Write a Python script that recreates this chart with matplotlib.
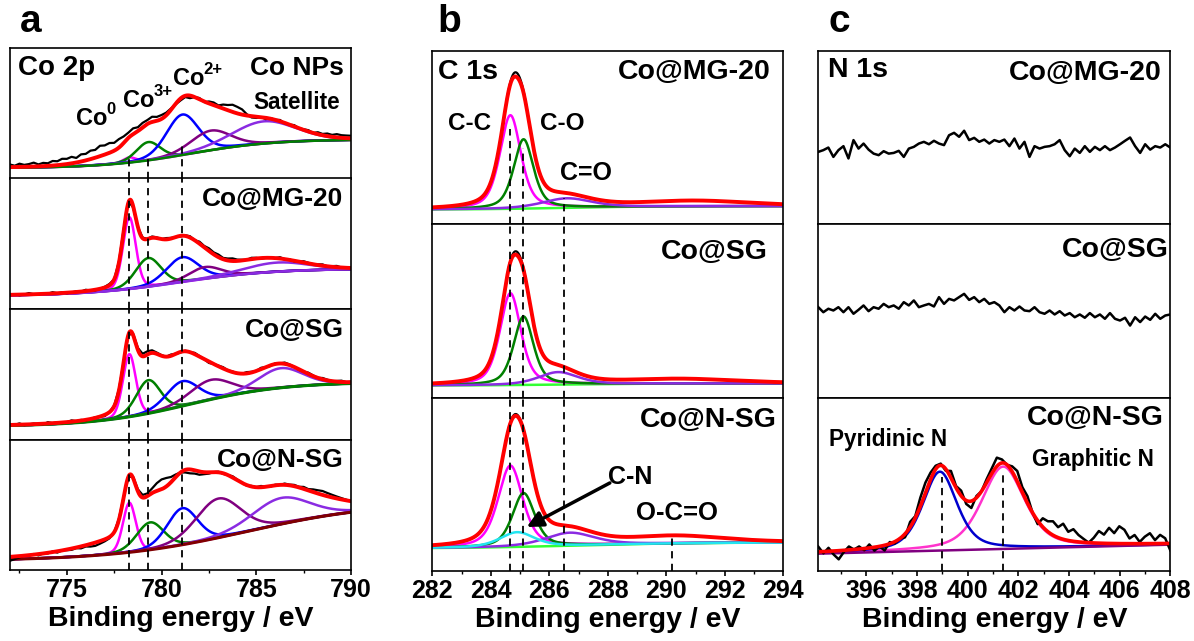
import numpy as np
import matplotlib.pyplot as plt
from matplotlib.ticker import MultipleLocator

plt.rcParams['font.family'] = ['Liberation Sans', 'DejaVu Sans']
plt.rcParams['font.weight'] = 'bold'

# ---------------- a: Co 2p ----------------
co_samples = ['Co NPs', 'Co@MG-20', 'Co@SG', 'Co@N-SG']
co_lines = [778.3, 779.3, 781.1]            # Co0, Co3+, Co2+
co_line_start = [0.15, 0.15, 0.27]          # dashes start here in the top frame
co_states = ['0', '3+', '2+']
# background: low level, rise, step centre, step width
co_bg = [[0.08, 0.22, 781.5, 2.2],
         [0.10, 0.21, 781.0, 2.5],
         [0.10, 0.34, 781.5, 2.5],
         [0.07, 0.45, 784.5, 3.5]]
# components: Co0, Co3+, Co2+, satellite 1, satellite 2
co_centre = [[778.3, 779.3, 781.1, 782.6, 785.4],
             [778.3, 779.3, 781.1, 782.3, 786.1],
             [778.3, 779.3, 781.1, 782.6, 786.3],
             [778.3, 779.4, 781.1, 783.0, 786.3]]
co_height = [[0.04, 0.14, 0.31, 0.15, 0.17],
             [0.55, 0.22, 0.19, 0.09, 0.07],
             [0.48, 0.255, 0.19, 0.15, 0.15],
             [0.38, 0.21, 0.28, 0.30, 0.20]]
co_width = [[0.8, 1.5, 2.0, 2.5, 4.0],
            [0.8, 1.6, 2.0, 2.0, 4.0],
            [0.8, 1.5, 2.0, 2.6, 2.8],
            [0.8, 1.7, 1.9, 2.8, 3.6]]
# unresolved parts of the envelope (centre, height, fwhm)
co_extra = [[(778.5, 0.10, 4.0), (783.0, 0.08, 3.0)],
            [(780.3, 0.13, 3.2), (784.5, 0.05, 3.5)],
            [(780.1, 0.17, 3.4), (784.0, 0.05, 5.0)],
            [(781.0, 0.17, 9.0), (789.0, 0.06, 4.0)]]
# measured minus envelope, 772-790 eV
co_resid = [
    [.02, .01, .025, .015, .02, .03, .015, .025, .02, .035, .03, .045, .04, .05, .035, .055,
     .05, .065, .06, .08, .07, .075, .06, .065, .05, .04, .045, .03, .035, .03, .04, .03,
     .03, .02, .01, -.005, -.015, -.01, -.02, .0, .01, -.005, .015, .02, .01, .03, .04, .055,
     .05, .04, .01, -.01, -.01, .0, -.01, .005, .0, .01, -.005, .0, .01, .0, .005, .01,
     .0, .015, .01, .02, .015, .025, .02, .02, .02],
    [0, .005, -.005, .0, .01, .0, -.005, .005, .0, .01, .0, .005, -.005, .0, .005, .0,
     .01, .0, -.005, .0, .005, .01, .0, .01, .015, .01, -.01, .0, .005, .0, .01, .005,
     .0, .01, .005, .0, -.005, .005, .01, .0, .015, .01, .02, .015, .02, .01, .015, .02,
     .01, .005, .0, .01, .005, -.005, .0, .005, .0, .01, .0, .005, -.005, .0, .01, .005,
     .0, .005, .01, .0, .005, .01, .0, .005, .0],
    [.005, .0, .01, -.005, .0, .005, .0, -.005, .01, .0, .005, -.005, .0, .01, .0, .005,
     -.005, .0, .005, .0, -.01, .0, .005, .01, .0, .0, .01, .015, .02, .025, .02, .01,
     .005, .0, .01, .0, -.005, .005, .0, .01, .005, .0, -.01, .0, .005, .01, .0, .005,
     -.005, .0, .01, .005, .0, .01, .0, -.005, .005, .0, .01, .005, .0, -.005, .0, .01,
     .005, .0, .01, .005, .0, .005, .01, .0, .005],
    [-.03, -.02, -.01, .0, -.005, .005, -.01, .0, -.005, .005, -.01, .0, -.005, -.01, -.005, -.015,
     -.01, -.02, -.025, -.02, -.015, -.01, .0, .01, .005, .0, .01, .015, .02, .02, .035, .06,
     .075, .065, .04, .02, .0, -.02, -.03, -.025, -.025, -.015, -.01, .0, .005, -.005, .0, .01,
     .005, .0, -.005, .005, .0, .01, .0, -.005, .005, .0, .01, .005, .01, .005, .015, .01,
     .02, .025, .03, .025, .02, .015, .01, .005, .0]]

# ---------------- b: C 1s ----------------
c_samples = ['Co@MG-20', 'Co@SG', 'Co@N-SG']
c_lines = [284.65, 285.1, 286.5]
c_line_start = [0.55, 0.44, 0.15]
c_ocO = 290.2
c_bg = [[0.085, 0.02, 286.5, 1.5],
        [0.07, 0.012, 286.5, 1.5],
        [0.13, 0.035, 287.0, 2.0]]
# components: C-C, C-O, C=O, C-N
c_centre = [[284.67, 285.12, 286.6],
            [284.67, 285.12, 286.3],
            [284.67, 285.12, 286.7, 284.9]]
c_height = [[0.54, 0.40, 0.055],
            [0.53, 0.395, 0.072],
            [0.47, 0.31, 0.075, 0.085]]
c_width = [[0.85, 0.8, 2.0],
           [0.85, 0.8, 1.6],
           [1.0, 0.9, 2.0, 1.4]]
c_extra = [[(291.0, 0.03, 4.5)], [(290.5, 0.025, 4.5)], [(290.3, 0.04, 4.0)]]
c_black_top = [(284.88, 0.025, 0.4), (284.9, 0.02, 0.4), (284.85, 0.01, 0.4)]

# ---------------- c: N 1s ----------------
n_samples = ['Co@MG-20', 'Co@SG', 'Co@N-SG']
n_mg = [.418, .428, .443, .389, .428, .451, .380, .486, .437, .466, .431, .408, .399, .422, .408, .412,
        .424, .389, .437, .447, .466, .476, .462, .482, .466, .457, .514, .528, .505, .540, .486, .499,
        .476, .489, .466, .486, .476, .489, .451, .495, .437, .476, .389, .451, .437, .447, .451, .462,
        .486, .428, .393, .437, .412, .451, .418, .447, .428, .451, .428, .443, .462, .482, .501, .451,
        .412, .462, .431, .451, .443, .462, .443]
n_sg = [.522, .493, .513, .503, .522, .493, .522, .484, .507, .532, .499, .522, .513, .541, .522, .532,
        .513, .551, .532, .561, .522, .532, .541, .526, .580, .541, .570, .561, .580, .599, .564, .580,
        .551, .570, .541, .551, .532, .493, .522, .503, .526, .503, .499, .522, .493, .484, .503, .480,
        .499, .474, .488, .464, .480, .461, .488, .464, .480, .455, .488, .455, .445, .461, .416, .464,
        .436, .468, .449, .484, .455, .474, .480]
n_bg = [0.10, 0.152]
n_centre = [398.9, 401.4]                  # pyridinic N, graphitic N
n_height = [0.455, 0.475]
n_width = [1.6, 2.0]
n_lines = [399.0, 401.4]
n_line_top = [0.54, 0.56]
n_resid = [.03, -.01, .02, -.02, -.05, -.01, .02, .0, .015, -.01, .02, -.02, .0, -.03, .01, -.01,
           .0, -.02, .03, .01, .05, .06, .04, .02, .01, -.01, .04, .01, .03, -.02, -.04, .01,
           .0, .02, .03, .05, .02, .0, .03, .06, .03, .04, .0, -.02, .05, .06, .08, .06,
           .09, .05, .07, .04, .02, .0, .03, .07, .05, .09, .06, .1, .08, .03, .05, .01,
           .04, .06, .02, .05, .03, -.04]


def pv(x, c, h, w, eta=0.3):
    d = (x - c) / w
    return h * (eta / (1 + 4 * d ** 2) + (1 - eta) * np.exp(-4 * np.log(2) * d ** 2))


def step_bg(x, lo, rise, xc, ws):
    return lo + rise / (1 + np.exp(-(x - xc) / ws))


def envelope(x, bgp, cs, hs, ws, extra, eta):
    y = step_bg(x, *bgp)
    for c, h, w in zip(cs, hs, ws):
        y = y + pv(x, c, h, w, eta)
    for c, h, w in extra:
        y = y + pv(x, c, h, w, eta)
    return y


fig = plt.figure(figsize=(11.94, 6.41), dpi=100)
W, H = 1194, 641


def column(left, width, top, bottom, n):
    h = (bottom - top) / n
    axs = []
    for i in range(n):
        ax = fig.add_axes([left / W, 1 - (top + (i + 1) * h) / H, width / W, h / H])
        ax.set_ylim(0, 1)
        ax.set_yticks([])
        for s in ax.spines.values():
            s.set_linewidth(1.2)
        if i < n - 1:
            ax.tick_params(bottom=False, labelbottom=False)
        axs.append(ax)
    return axs


def bottom_axis(ax, major, minor):
    ax.xaxis.set_major_locator(MultipleLocator(major))
    ax.xaxis.set_minor_locator(MultipleLocator(minor))
    ax.tick_params(axis='x', which='major', direction='out', length=3.5, width=1.2, labelsize=18, pad=2)
    ax.tick_params(axis='x', which='minor', direction='out', length=2.5, width=1.0)
    ax.xaxis.set_major_formatter(plt.FuncFormatter(lambda v, p: '%d' % round(v)))
    ax.set_xlabel('Binding energy / eV', fontsize=20.5, fontweight='bold', labelpad=3)


dash = (0, (4, 3))
comp_lw = 1.8

# ---- a ----
axa = column(10, 341, 48, 570, 4)
xa = np.linspace(772, 790, 721)
co_colors = ['#FF00FF', '#008000', '#0000FF', '#800080', '#8A2BE2']
co_bg_colors = ['#008000', '#8A2BE2', '#008000', '#800000']
for i, ax in enumerate(axa):
    ax.set_xlim(772, 790)
    bg = step_bg(xa, *co_bg[i])
    for c, h, w, col in zip(co_centre[i], co_height[i], co_width[i], co_colors):
        ax.plot(xa, bg + pv(xa, c, h, w, 0.2), color=col, lw=comp_lw)
    ax.plot(xa, bg, color=co_bg_colors[i], lw=2.2 if i in (2, 3) else comp_lw)
    xr = np.linspace(772, 790, len(co_resid[i]))
    env_r = envelope(xr, co_bg[i], co_centre[i], co_height[i], co_width[i], co_extra[i], 0.2)
    ax.plot(xr, env_r + np.array(co_resid[i]), color='k', lw=1.6)
    env = envelope(xa, co_bg[i], co_centre[i], co_height[i], co_width[i], co_extra[i], 0.2)
    ax.plot(xa, env, color='#FF0000', lw=2.8)
    for x0, s in zip(co_lines, co_line_start):
        ax.axvline(x0, ymin=0, ymax=s if i == 0 else 1, color='k', lw=1.3, ls=dash)
    ax.text(789.6, 0.84 if i else 0.847, co_samples[i], ha='right', va='center', fontsize=19)
axa[0].text(772.42, 0.847, 'Co 2p', ha='left', va='center', fontsize=20)
axa[0].text(789.43, 0.586, 'Satellite', ha='right', va='center', fontsize=16.3)
# Co0, Co3+, Co2+ labels with superscripts
for xl, yl, st in zip([775.5, 777.95, 780.6], [0.46, 0.60, 0.766], co_states):
    t = axa[0].text(xl, yl, 'Co', ha='left', va='center', fontsize=17)
    axa[0].annotate(st, xy=(0.97, 0.55), xycoords=t, ha='left', va='bottom', fontsize=12)
bottom_axis(axa[-1], 5, 2.5)

# ---- b ----
axb = column(432.3, 351, 51, 571, 3)
xb = np.linspace(282, 294, 1201)
c_colors = ['#FF00FF', '#008000', '#8A2BE2', '#22E5F0']
for i, ax in enumerate(axb):
    ax.set_xlim(282, 294)
    bg = step_bg(xb, *c_bg[i])
    ax.plot(xb, bg, color='#33FF33', lw=comp_lw)
    for c, h, w, col in zip(c_centre[i], c_height[i], c_width[i], c_colors):
        ax.plot(xb, bg + pv(xb, c, h, w, 0.5), color=col, lw=comp_lw)
    env = envelope(xb, c_bg[i], c_centre[i], c_height[i], c_width[i], c_extra[i], 0.5)
    ax.plot(xb, env + pv(xb, *c_black_top[i], 0.0), color='k', lw=1.6)
    ax.plot(xb, env, color='#FF0000', lw=2.8)
    for x0, s in zip(c_lines, c_line_start):
        ax.axvline(x0, ymin=0, ymax=s if i == 0 else 1, color='k', lw=1.3, ls=dash)
axb[2].axvline(c_ocO, ymin=0, ymax=0.207, color='k', lw=1.3, ls=dash)
axb[0].text(282.2, 0.879, 'C 1s', ha='left', va='center', fontsize=20.5)
axb[0].text(293.55, 0.879, c_samples[0], ha='right', va='center', fontsize=20.5)
axb[1].text(293.48, 0.84, c_samples[1], ha='right', va='center', fontsize=20.5)
axb[2].text(293.78, 0.871, c_samples[2], ha='right', va='center', fontsize=20.5)
axb[0].text(283.29, 0.584, 'C-C', ha='center', va='center', fontsize=17.5)
axb[0].text(286.43, 0.584, 'C-O', ha='center', va='center', fontsize=17.5)
axb[0].text(287.25, 0.296, 'C=O', ha='center', va='center', fontsize=18)
axb[2].text(288.76, 0.542, 'C-N', ha='center', va='center', fontsize=18)
axb[2].text(290.37, 0.335, 'O-C=O', ha='center', va='center', fontsize=18.5)
axb[2].annotate('', xy=(285.23, 0.254), xytext=(288.07, 0.508),
                arrowprops=dict(arrowstyle='-|>', color='k', lw=2.5, mutation_scale=24,
                                shrinkA=0, shrinkB=0))
bottom_axis(axb[-1], 2, 1)

# ---- c ----
axc = column(818.3, 352, 51, 571, 3)
for ax in axc:
    ax.set_xlim(394.1, 408)
xn = np.linspace(394.1, 408, len(n_mg))
axc[0].plot(xn, n_mg, color='k', lw=1.8)
xn = np.linspace(394.1, 408, len(n_sg))
axc[1].plot(xn, n_sg, color='k', lw=1.8)
xc = np.linspace(394.1, 408, 700)
bgc = np.linspace(n_bg[0], n_bg[1], len(xc))
axc[2].plot(xc, bgc + pv(xc, n_centre[1], n_height[1], n_width[1], 0.5), color='#FF33CC', lw=comp_lw)
axc[2].plot(xc, bgc + pv(xc, n_centre[0], n_height[0], n_width[0], 0.5), color='#0000CD', lw=comp_lw)
axc[2].plot(xc, bgc, color='#800080', lw=comp_lw)
xr = np.linspace(394.1, 408, len(n_resid))
env_r = np.linspace(n_bg[0], n_bg[1], len(xr))
for c, h, w in zip(n_centre, n_height, n_width):
    env_r = env_r + pv(xr, c, h, w, 0.5)
axc[2].plot(xr, env_r + np.array(n_resid), color='k', lw=1.8)
env = bgc.copy()
for c, h, w in zip(n_centre, n_height, n_width):
    env = env + pv(xc, c, h, w, 0.5)
axc[2].plot(xc, env, color='#FF0000', lw=2.6)
for x0, t in zip(n_lines, n_line_top):
    axc[2].axvline(x0, ymin=0, ymax=t, color='k', lw=1.3, ls=dash)
axc[0].text(394.47, 0.89, 'N 1s', ha='left', va='center', fontsize=20.5)
axc[0].text(407.64, 0.872, n_samples[0], ha='right', va='center', fontsize=20.5)
axc[1].text(407.92, 0.852, n_samples[1], ha='right', va='center', fontsize=20.5)
axc[2].text(407.76, 0.883, n_samples[2], ha='right', va='center', fontsize=20.5)
axc[2].text(396.84, 0.756, 'Pyridinic N', ha='center', va='center', fontsize=16.3)
axc[2].text(404.94, 0.646, 'Graphitic N', ha='center', va='center', fontsize=16.3)
bottom_axis(axc[-1], 2, 1)

for lab, xp in zip(['a', 'b', 'c'], [31, 449, 839]):
    fig.text(xp / W, 1 - 22 / H, lab, ha='center', va='center', fontsize=28, fontweight='bold',
             family=['Liberation Sans Narrow', 'Liberation Sans'])

fig.savefig('out.png', dpi=100)
